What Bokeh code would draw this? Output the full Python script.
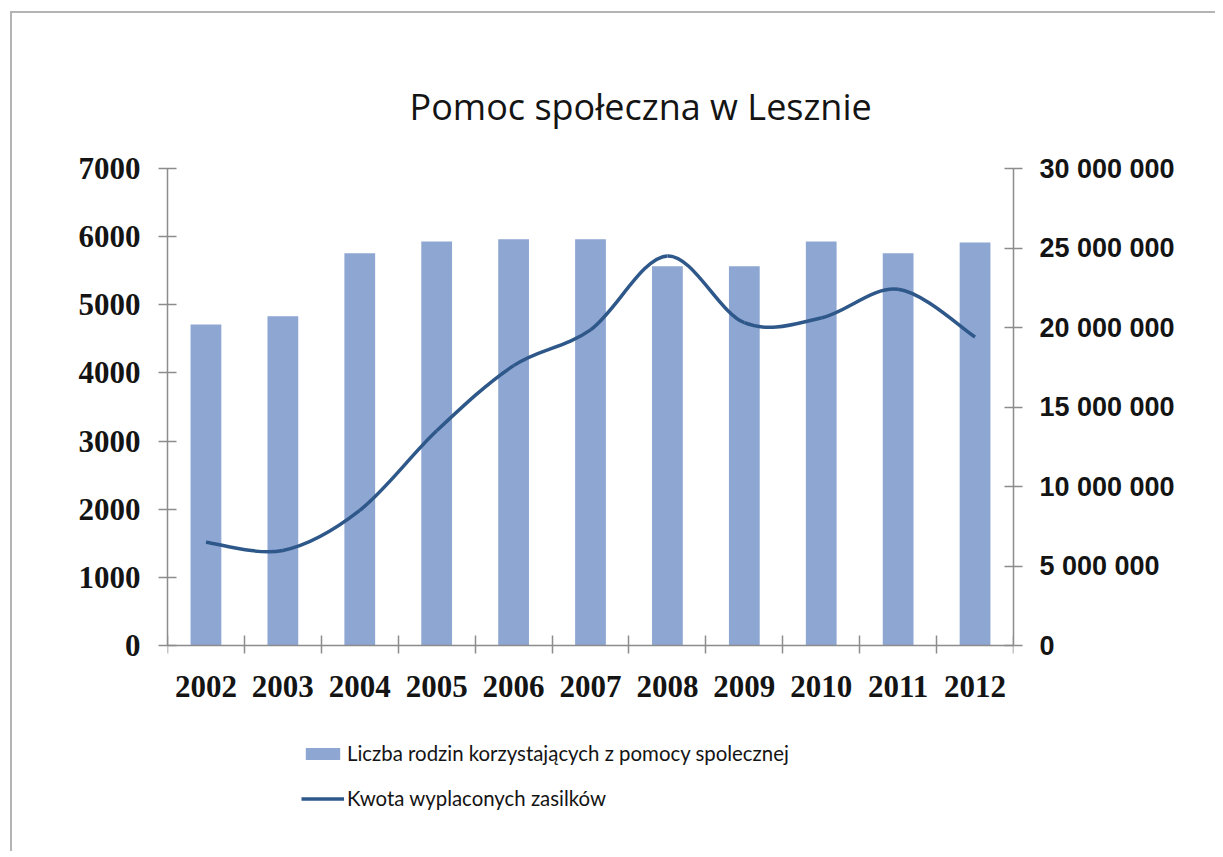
from bokeh.plotting import figure
from bokeh.models import (Range1d, LinearAxis, FixedTicker, Legend, LegendItem,
                          ColumnDataSource)
from bokeh.embed import file_html
from bokeh.resources import INLINE

# ---- data ----
years = ["2002", "2003", "2004", "2005", "2006", "2007", "2008", "2009", "2010", "2011", "2012"]
families = [4710, 4830, 5755, 5930, 5960, 5960, 5565, 5565, 5930, 5755, 5915]
amounts = [6500000, 5980000, 8500000, 13500000, 17600000, 19850000, 24500000,
           20300000, 20600000, 22400000, 19400000]
left_ticks = [0, 1000, 2000, 3000, 4000, 5000, 6000, 7000]
right_ticks = [0, 5000000, 10000000, 15000000, 20000000, 25000000, 30000000]

title_text = "Pomoc społeczna  w Lesznie"
bar_label = "Liczba rodzin korzystających z pomocy spolecznej"
line_label = "Kwota wyplaconych zasilków"

BAR_COLOR = "#8EA6D2"
LINE_COLOR = "#2F588A"
AXIS_COLOR = "#8C8C8C"
TEXT_COLOR = "#141414"

# ---- layout (pixels) ----
CANVAS_W, CANVAS_H = 1205, 840
FRAME_TOP = 155
FRAME_LEFT = 155
FRAME_RIGHT_BORDER = 204
AXIS_PX = 477            # height of the value axes
BELOW_PX = CANVAS_H - FRAME_TOP - AXIS_PX   # room under the zero line (legend area)

xs = list(range(len(years)))
n = len(xs)

y_top = left_ticks[-1]
r_top = right_ticks[-1]
p = figure(width=CANVAS_W, height=CANVAS_H, output_backend="svg", toolbar_location=None,
           x_range=Range1d(-0.5, n - 0.5),
           y_range=Range1d(-y_top * BELOW_PX / AXIS_PX, y_top),
           min_border_left=FRAME_LEFT, min_border_right=FRAME_RIGHT_BORDER,
           min_border_top=FRAME_TOP, min_border_bottom=0,
           title=title_text)
p.margin = (11, 0, 0, 10)
p.extra_y_ranges = {"amt": Range1d(-r_top * BELOW_PX / AXIS_PX, r_top)}
p.outline_line_color = None
p.xgrid.visible = False
p.ygrid.visible = False
p.background_fill_color = "white"
p.border_fill_color = "white"
p.styles = {"border-left": "2px solid #b4b4b4", "border-top": "2px solid #b4b4b4"}

# title
p.title.align = "left"
p.title.offset = 242
p.title.standoff = 75
p.title.text_font = "Open Sans"
p.title.text_font_style = "normal"
p.title.text_font_size = "36px"
p.title.text_color = TEXT_COLOR

# bars
src = ColumnDataSource(dict(x=xs, fam=families, amt=amounts))
bars = p.vbar(x="x", top="fam", bottom=0, width=0.4, source=src, fill_color=BAR_COLOR,
              line_color=None)

# smoothed line (Catmull-Rom segments drawn as cubic beziers)
def cl(i):
    return max(0, min(n - 1, i))

bz = dict(x0=[], y0=[], x1=[], y1=[], cx0=[], cy0=[], cx1=[], cy1=[])
for i in range(n - 1):
    a, b, c, d = cl(i - 1), i, i + 1, cl(i + 2)
    bz["x0"].append(xs[b]); bz["y0"].append(amounts[b])
    bz["x1"].append(xs[c]); bz["y1"].append(amounts[c])
    bz["cx0"].append(xs[b] + (xs[c] - xs[a]) / 6.0)
    bz["cy0"].append(amounts[b] + (amounts[c] - amounts[a]) / 6.0)
    bz["cx1"].append(xs[c] - (xs[d] - xs[b]) / 6.0)
    bz["cy1"].append(amounts[c] - (amounts[d] - amounts[b]) / 6.0)
curve = p.bezier(source=ColumnDataSource(bz), x0="x0", y0="y0", x1="x1", y1="y1",
                 cx0="cx0", cy0="cy0", cx1="cx1", cy1="cy1",
                 line_color=LINE_COLOR, line_width=3.5, y_range_name="amt")

# x axis, drawn on the zero line
xa = p.xaxis[0]
xa.fixed_location = 0
xa.ticker = FixedTicker(ticks=xs, minor_ticks=[i - 0.5 for i in range(n + 1)])
xa.major_label_overrides = {i: y for i, y in zip(xs, years)}
xa.major_tick_in = 0
xa.major_tick_out = 0
xa.minor_tick_in = 10
xa.minor_tick_out = 8
xa.minor_tick_line_color = AXIS_COLOR
xa.minor_tick_line_width = 1.5
xa.axis_line_color = AXIS_COLOR
xa.axis_line_width = 1.5
xa.major_label_standoff = 22
xa.major_label_text_font = "Liberation Serif"
xa.major_label_text_font_style = "bold"
xa.major_label_text_font_size = "31px"
xa.major_label_text_color = TEXT_COLOR

# left axis
ya = p.yaxis[0]
ya.bounds = (left_ticks[0], left_ticks[-1])
ya.ticker = FixedTicker(ticks=left_ticks, minor_ticks=[])
ya.major_tick_in = 9
ya.major_tick_out = 9
ya.major_tick_line_color = AXIS_COLOR
ya.major_tick_line_width = 1.5
ya.minor_tick_line_color = None
ya.axis_line_color = AXIS_COLOR
ya.axis_line_width = 1.5
ya.major_label_standoff = 18
ya.major_label_text_font = "Liberation Serif"
ya.major_label_text_font_style = "bold"
ya.major_label_text_font_size = "31px"
ya.major_label_text_color = TEXT_COLOR

# right axis
ra = LinearAxis(y_range_name="amt", bounds=(right_ticks[0], right_ticks[-1]),
                ticker=FixedTicker(ticks=right_ticks, minor_ticks=[]))
ra.major_label_overrides = {t: ("{:,}".format(t).replace(",", " ")) for t in right_ticks}
ra.major_tick_in = 9
ra.major_tick_out = 9
ra.major_tick_line_color = AXIS_COLOR
ra.major_tick_line_width = 1.5
ra.minor_tick_line_color = None
ra.axis_line_color = AXIS_COLOR
ra.axis_line_width = 1.5
ra.major_label_standoff = 17
ra.major_label_text_font = "Liberation Sans"
ra.major_label_text_font_style = "bold"
ra.major_label_text_font_size = "27px"
ra.major_label_text_color = TEXT_COLOR
p.add_layout(ra, "right")

# legend (inside the frame, under the zero line)
legend = Legend(items=[LegendItem(label=bar_label, renderers=[bars]),
                       LegendItem(label=line_label, renderers=[curve])],
                location=(134, 43), orientation="vertical",
                padding=0, margin=0, spacing=21,
                glyph_width=43, glyph_height=15, label_height=20, label_standoff=3,
                label_text_font="Lato",
                label_text_font_size="20.4px", label_text_color=TEXT_COLOR,
                border_line_color=None, background_fill_alpha=0)
p.add_layout(legend)

open("out.html", "w").write(file_html(p, INLINE))
